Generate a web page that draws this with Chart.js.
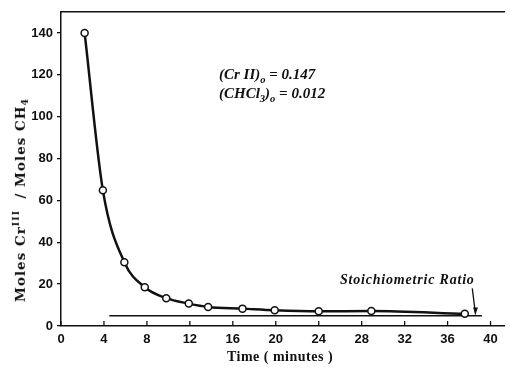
<!DOCTYPE html>
<html>
<head>
<meta charset="utf-8">
<script src="https://cdn.jsdelivr.net/npm/chart.js@4.4.0/dist/chart.umd.min.js"></script>
<style>
  body { margin: 0; background: #fff; }
  #wrap { position: relative; width: 510px; height: 371px; }
  .lbl { position: absolute; color: #111; white-space: nowrap; line-height: 1; }
  .ytitle { left: 20px; top: 200px; transform: translate(-50%, -50%) rotate(-90deg);
            font: bold 13.5px "DejaVu Serif", serif; letter-spacing: 1px; }
  .xtitle { left: 280px; top: 357px; transform: translate(-50%, -50%);
            font: bold 14px "Liberation Serif", serif; letter-spacing: 0.5px; }
  .note { font: italic 600 15px "Liberation Serif", serif; }
  sub, sup { font-size: 70%; }
</style>
</head>
<body>
<div id="wrap">
  <canvas id="chart" width="510" height="371"></canvas>
  <div class="lbl ytitle">Moles Cr<sup>III</sup>&nbsp; / Moles CH<sub>4</sub></div>
  <div class="lbl xtitle">Time ( minutes )</div>
  <div class="lbl note" style="left:219px; top:66px;">(Cr II)<sub>o</sub> = 0.147</div>
  <div class="lbl note" style="left:219px; top:85px;">(CHCl<sub>3</sub>)<sub>o</sub> = 0.012</div>
  <div class="lbl note" style="left:340px; top:272px; font-weight:bold; font-size:14px; letter-spacing:0.8px;">Stoichiometric Ratio</div>
</div>
<script>
// datos
const timeMin = [2.2, 3.9, 5.9, 7.8, 9.8, 11.9, 13.7, 16.9, 19.9, 24.0, 28.9, 37.6];
const ratio = [140, 64.8, 30.5, 18.5, 13.3, 10.7, 9.1, 8.3, 7.5, 7.0, 7.2, 5.8];
const stoichX = [4.5, 39.2];
const stoichY = [4.9, 4.9];
const arrowX = [38.3, 38.6];
const arrowY = [18, 5.5];
const xTicks = [0, 4, 8, 12, 16, 20, 24, 28, 32, 36, 40];
const yTicks = [0, 20, 40, 60, 80, 100, 120, 140];

const tickFont = { family: '"Liberation Sans", Arial, sans-serif', size: 13, weight: 'bold' };

// marcas del eje x hacia adentro y flecha
const extras = {
    id: 'extras',
    afterDraw(chart) {
        const ctx = chart.ctx;
        const x = chart.scales.x, y = chart.scales.y;
        const area = chart.chartArea;
        ctx.save();
        ctx.strokeStyle = '#111';
        ctx.lineWidth = 1.3;
        xTicks.forEach(v => {
            let px = x.getPixelForValue(v);
            ctx.beginPath();
            ctx.moveTo(px, area.bottom);
            ctx.lineTo(px, area.bottom - 5);
            ctx.stroke();
        });
        // flecha
        let x0 = x.getPixelForValue(arrowX[0]), y0 = y.getPixelForValue(arrowY[0]);
        let x1 = x.getPixelForValue(arrowX[1]), y1 = y.getPixelForValue(arrowY[1]);
        ctx.beginPath();
        ctx.moveTo(x0, y0);
        ctx.lineTo(x1, y1);
        ctx.stroke();
        ctx.fillStyle = '#111';
        ctx.beginPath();
        ctx.moveTo(x1, y1);
        ctx.lineTo(x1 - 2.5, y1 - 7);
        ctx.lineTo(x1 + 2.5, y1 - 7);
        ctx.closePath();
        ctx.fill();
        ctx.restore();
    }
};

new Chart(document.getElementById('chart'), {
    type: 'line',
    data: {
        datasets: [{
            data: timeMin.map((t, i) => ({ x: t, y: ratio[i] })),
            borderColor: '#111',
            borderWidth: 2.5,
            cubicInterpolationMode: 'monotone',
            pointRadius: 3.5,
            pointBackgroundColor: '#fff',
            pointBorderColor: '#111',
            pointBorderWidth: 1.5,
            order: 0
        }, {
            data: stoichX.map((t, i) => ({ x: t, y: stoichY[i] })),
            borderColor: '#111',
            borderWidth: 1.5,
            pointRadius: 0,
            order: 1
        }]
    },
    options: {
        responsive: false,
        animation: false,
        layout: { padding: { top: 12, right: 5, left: 0, bottom: 0 } },
        plugins: { legend: { display: false }, tooltip: { enabled: false } },
        scales: {
            x: {
                type: 'linear',
                min: 0, max: 41.3,
                afterBuildTicks: s => { s.ticks = xTicks.map(v => ({ value: v })); },
                afterFit: s => { s.height = 45; },
                grid: { display: false, drawTicks: false, tickLength: 0 },
                border: { display: true, color: '#111', width: 1.5 },
                ticks: { color: '#111', font: tickFont, padding: 6, maxRotation: 0, autoSkip: false }
            },
            top: {
                type: 'linear', position: 'top',
                min: 0, max: 41.3,
                grid: { display: false, drawTicks: false },
                border: { display: true, color: '#111', width: 1.5 },
                ticks: { display: false },
                afterFit: s => { s.height = 0; }
            },
            y: {
                min: 0, max: 150,
                afterBuildTicks: s => { s.ticks = yTicks.map(v => ({ value: v })); },
                afterFit: s => { s.width = 61; },
                grid: { drawOnChartArea: false, drawTicks: true, tickLength: 4, color: '#111', lineWidth: 1.3 },
                border: { display: true, color: '#111', width: 1.5 },
                ticks: { color: '#111', font: tickFont, padding: 4 }
            }
        }
    },
    plugins: [extras]
});
</script>
</body>
</html>
